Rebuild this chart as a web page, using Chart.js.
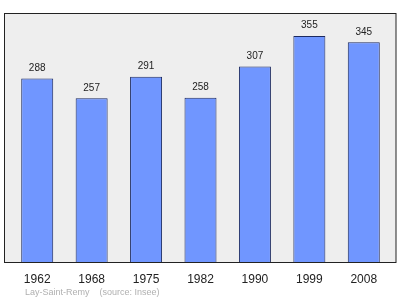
<!DOCTYPE html>
<html><head><meta charset="utf-8">
<script src="https://cdn.jsdelivr.net/npm/chart.js@4.4.1/dist/chart.umd.min.js"></script>
<style>html,body{margin:0;padding:0;background:#fff;}#wrap{width:400px;height:299px;}</style>
</head><body><div id="wrap"><canvas id="c" width="400" height="299"></canvas></div>
<script>
const years = ["1962","1968","1975","1982","1990","1999","2008"];
const population = [288,257,291,258,307,355,345];
const footerText = "Lay-Saint-Remy    (source: Insee)";

const framePlugin = {
  id: 'frame',
  beforeDraw(chart) {
    const {ctx, chartArea: a} = chart;
    ctx.save();
    ctx.fillStyle = '#eeeeee';
    ctx.fillRect(a.left - 5.5, a.top + 0.5, a.right - a.left + 10.5, a.bottom - a.top);
    ctx.restore();
  },
  afterDatasetsDraw(chart) {
    const {ctx, chartArea: a} = chart;
    ctx.save();
    ctx.strokeStyle = '#222222';
    ctx.lineWidth = 1;
    ctx.strokeRect(a.left - 5.5, a.top + 0.5, a.right - a.left + 10.5, a.bottom - a.top);
    ctx.fillStyle = '#222222';
    ctx.font = '10px "Liberation Sans", Arial, sans-serif';
    ctx.textAlign = 'center';
    ctx.textBaseline = 'middle';
    const meta = chart.getDatasetMeta(0);
    meta.data.forEach((bar, i) => {
      ctx.fillText(String(population[i]), bar.x, bar.y - 10.5);
    });
    ctx.fillStyle = '#b0b0b0';
    ctx.font = '9px "Liberation Sans", Arial, sans-serif';
    ctx.textAlign = 'left';
    ctx.fillText(footerText, 25, 292.5);
    ctx.restore();
  }
};

new Chart(document.getElementById('c'), {
  type: 'bar',
  data: {
    labels: years,
    datasets: [{
      data: population,
      backgroundColor: '#7096ff',
      borderColor: '#1c2a60',
      borderWidth: 1,
      borderSkipped: 'bottom',
      categoryPercentage: 1,
      barPercentage: 0.588
    }]
  },
  options: {
    responsive: false,
    animation: false,
    devicePixelRatio: 1,
    layout: { padding: { left: 10, right: 9, top: 13, bottom: 0 } },
    plugins: { legend: { display: false }, tooltip: { enabled: false } },
    scales: {
      x: {
        offset: true,
        border: { display: false },
        grid: { display: false, drawTicks: false },
        ticks: { color: '#222222', padding: 10, font: { size: 12, family: '"Liberation Sans", Arial, sans-serif' }, maxRotation: 0 },
        afterFit(scale) { scale.height = 37; }
      },
      y: { display: false, min: 0, max: 391 }
    }
  },
  plugins: [framePlugin]
});
</script></body></html>
